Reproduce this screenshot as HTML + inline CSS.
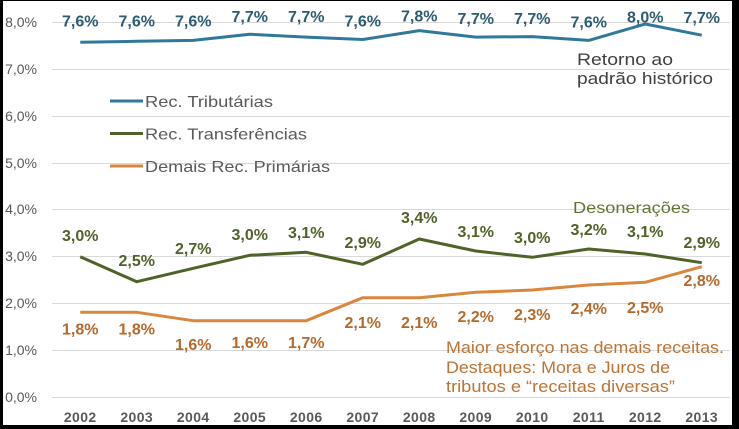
<!DOCTYPE html>
<html><head><meta charset="utf-8"><style>
html,body{margin:0;padding:0;background:#000;}
svg{display:block;}
text{font-family:"Liberation Sans",sans-serif;}
.yt{font-size:14px;fill:#595959;text-anchor:end;}
.xt{font-size:14px;font-weight:bold;fill:#595959;text-anchor:middle;letter-spacing:0.4px;}
.lb{font-size:16px;font-weight:bold;text-anchor:middle;letter-spacing:0px;}
.t{fill:#2B5C72;} .g{fill:#4F6228;} .o{fill:#B5692C;}
.lg{font-size:16px;fill:#595959;}
</style></head><body>
<svg width="739" height="429" viewBox="0 0 739 429" xmlns="http://www.w3.org/2000/svg">
<rect x="0" y="0" width="739" height="429" fill="#000"/>
<rect x="3" y="1" width="729" height="424" fill="#fff"/>
<g stroke="#D9D9D9" stroke-width="1">
<line x1="52" x2="730" y1="22.5" y2="22.5"/>
<line x1="52" x2="730" y1="69.5" y2="69.5"/>
<line x1="52" x2="730" y1="116.5" y2="116.5"/>
<line x1="52" x2="730" y1="163.5" y2="163.5"/>
<line x1="52" x2="730" y1="209.5" y2="209.5"/>
<line x1="52" x2="730" y1="256.5" y2="256.5"/>
<line x1="52" x2="730" y1="303.5" y2="303.5"/>
<line x1="52" x2="730" y1="350.5" y2="350.5"/>
<line x1="52" x2="730" y1="397.5" y2="397.5"/>
</g>
<g class="yt">
<text x="37" y="27">8,0%</text>
<text x="37" y="74">7,0%</text>
<text x="37" y="121">6,0%</text>
<text x="37" y="168">5,0%</text>
<text x="37" y="214">4,0%</text>
<text x="37" y="261">3,0%</text>
<text x="37" y="308">2,0%</text>
<text x="37" y="355">1,0%</text>
<text x="37" y="402">0,0%</text>
</g>
<g class="xt">
<text x="80.25" y="422">2002</text>
<text x="136.75" y="422">2003</text>
<text x="193.25" y="422">2004</text>
<text x="249.75" y="422">2005</text>
<text x="306.25" y="422">2006</text>
<text x="362.75" y="422">2007</text>
<text x="419.25" y="422">2008</text>
<text x="475.75" y="422">2009</text>
<text x="532.25" y="422">2010</text>
<text x="588.75" y="422">2011</text>
<text x="645.25" y="422">2012</text>
<text x="701.75" y="422">2013</text>
</g>
<g fill="none" stroke-width="3" stroke-linejoin="round" stroke-linecap="butt">
<polyline stroke="#31799A" points="80.25,42.3 136.75,41.3 193.25,40.4 249.75,34.3 306.25,37.1 362.75,39.5 419.25,30.6 475.75,37.1 532.25,36.6 588.75,40.4 645.25,24 701.75,35.2"/>
<polyline stroke="#4F6228" points="80.25,256.7 136.75,281.7 193.25,268.3 249.75,255.3 306.25,252.3 362.75,264.3 419.25,239 475.75,251 532.25,257.3 588.75,249 645.25,254 701.75,262.7"/>
<polyline stroke="#D9873F" points="80.25,312.3 136.75,312.3 193.25,320.7 249.75,320.7 306.25,320.7 362.75,297.7 419.25,297.7 475.75,292.3 532.25,290 588.75,285 645.25,282.3 701.75,266.7"/>
</g>
<g class="lb t">
<text x="80.25" y="26.5">7,6%</text>
<text x="136.75" y="26.5">7,6%</text>
<text x="193.25" y="26.5">7,6%</text>
<text x="249.75" y="22">7,7%</text>
<text x="306.25" y="22">7,7%</text>
<text x="362.75" y="26.5">7,6%</text>
<text x="419.25" y="21.5">7,8%</text>
<text x="475.75" y="24">7,7%</text>
<text x="532.25" y="24">7,7%</text>
<text x="588.75" y="27.5">7,6%</text>
<text x="645.25" y="22.5">8,0%</text>
<text x="701.75" y="23">7,7%</text>
</g>
<g class="lb g">
<text x="80.25" y="241">3,0%</text>
<text x="136.75" y="266">2,5%</text>
<text x="193.25" y="254">2,7%</text>
<text x="249.75" y="240">3,0%</text>
<text x="306.25" y="238">3,1%</text>
<text x="362.75" y="248">2,9%</text>
<text x="419.25" y="223">3,4%</text>
<text x="475.75" y="237">3,1%</text>
<text x="532.25" y="243">3,0%</text>
<text x="588.75" y="235">3,2%</text>
<text x="645.25" y="237">3,1%</text>
<text x="701.75" y="248">2,9%</text>
</g>
<g class="lb o">
<text x="80.25" y="334.5">1,8%</text>
<text x="136.75" y="334.5">1,8%</text>
<text x="193.25" y="350">1,6%</text>
<text x="249.75" y="348">1,6%</text>
<text x="306.25" y="348">1,7%</text>
<text x="362.75" y="328">2,1%</text>
<text x="419.25" y="328">2,1%</text>
<text x="475.75" y="322">2,2%</text>
<text x="532.25" y="320">2,3%</text>
<text x="588.75" y="314">2,4%</text>
<text x="645.25" y="313">2,5%</text>
<text x="701.75" y="286">2,8%</text>
</g>
<g stroke-width="3">
<line x1="110" x2="143" y1="101" y2="101" stroke="#31799A"/>
<line x1="110" x2="143" y1="133.5" y2="133.5" stroke="#4F6228"/>
<line x1="110" x2="143" y1="166" y2="166" stroke="#D9873F"/>
</g>
<text class="lg" x="145" y="107" textLength="128" lengthAdjust="spacingAndGlyphs">Rec. Tributárias</text>
<text class="lg" x="145" y="139.5" textLength="162" lengthAdjust="spacingAndGlyphs">Rec. Transferências</text>
<text class="lg" x="145" y="172" textLength="185" lengthAdjust="spacingAndGlyphs">Demais Rec. Primárias</text>
<g style="font-size:17px;fill:#404040">
<text x="577" y="65" textLength="96" lengthAdjust="spacingAndGlyphs">Retorno ao</text>
<text x="577" y="84" textLength="136" lengthAdjust="spacingAndGlyphs">padrão histórico</text>
</g>
<text x="573" y="213" style="font-size:16px;fill:#5F7530" textLength="117" lengthAdjust="spacingAndGlyphs">Desonerações</text>
<g style="font-size:16.5px;fill:#BE7334">
<text x="446" y="353" textLength="278" lengthAdjust="spacingAndGlyphs">Maior esforço nas demais receitas.</text>
<text x="446" y="373" textLength="224" lengthAdjust="spacingAndGlyphs">Destaques: Mora e Juros de</text>
<text x="446" y="392" textLength="229" lengthAdjust="spacingAndGlyphs">tributos e “receitas diversas”</text>
</g>
</svg>
</body></html>
